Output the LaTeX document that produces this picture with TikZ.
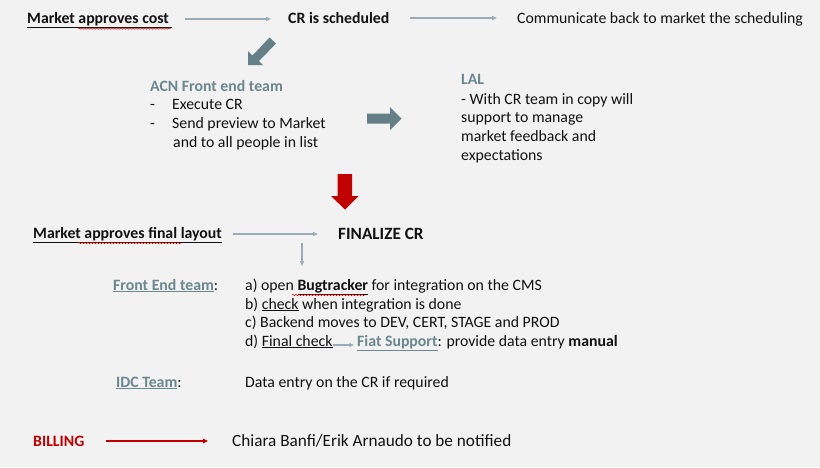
\documentclass[tikz,border=0pt]{standalone}
\usepackage{fontspec}
\setmainfont{Carlito}
\usetikzlibrary{arrows.meta,decorations.pathmorphing}
\definecolor{bg}{HTML}{F2F2F2}
\definecolor{slate}{HTML}{657F86}
\definecolor{slatetxt}{HTML}{6B878F}
\definecolor{linecol}{HTML}{9AADB4}
\definecolor{darkred}{HTML}{C00000}
\definecolor{txt}{HTML}{111111}
\newcommand{\ul}[1]{\underline{#1}}
\tikzset{
  txtnode/.style={anchor=base west, inner sep=0pt, font=\fontsize{15.8}{18}\selectfont, text=txt},
  bnode/.style={txtnode, font=\fontsize{15.8}{18}\selectfont\bfseries},
  conn/.style={draw=linecol, line width=1.2pt, -{Triangle[length=5pt,width=4pt]}},
  redconn/.style={draw=darkred, line width=1.4pt, -{Triangle[length=5pt,width=4.5pt]}},
  spell/.style={draw=red!85!black, line width=0.5pt, decorate, decoration={snake, amplitude=0.7pt, segment length=3pt}}
}
\begin{document}
\begin{tikzpicture}[x=1pt,y=-1pt]
\fill[bg] (0,0) rectangle (820,467);
\useasboundingbox (0,0) rectangle (820,467);

% top row
\node[bnode] (mac) at (27,23.5) {\ul{Market approves cost\ }};
\node[bnode] (crs) at (288,23.5) {CR is scheduled};
\node[txtnode] (comm) at (517,23.5) {Communicate back to market the scheduling};
\draw[spell] (78,28.5) -- (171,28.5);
\coordinate (a1s) at (185,19);
\coordinate (a1e) at (271,19);
\coordinate (a2s) at (410,18);
\coordinate (a2e) at (497,18);
\draw[conn] (a1s) -- (a1e);
\draw[conn] (a2s) -- (a2e);

% diagonal block arrow
\fill[slate] (248,65) -- (248,51) -- (252.5,55.5) -- (269.5,37.5) -- (276,43.5) -- (259,61) -- (263,65) -- cycle;

% ACN block
\node[bnode, text=slatetxt] (acn) at (150,91) {ACN Front end team};
\node[txtnode] (d1) at (150,109) {-};
\node[txtnode] (e1) at (172,109) {Execute CR};
\node[txtnode] (d2) at (150,128) {-};
\node[txtnode] (e2) at (172,128) {Send preview to Market};
\node[txtnode] (e3) at (173,147) {and to all people in list};

% right block arrow
\fill[slate] (367,113.5) -- (390,113.5) -- (390,107) -- (401.5,118.5) -- (390,130) -- (390,123.5) -- (367,123.5) -- cycle;

% LAL
\node[bnode, text=slatetxt] (lal) at (461,84) {LAL};
\node[txtnode] (l1) at (461,104) {- With CR team in copy will};
\node[txtnode] (l2) at (461,122) {support to manage};
\node[txtnode] (l3) at (461,141) {market feedback and};
\node[txtnode] (l4) at (461,160) {expectations};

% red down arrow
\fill[darkred] (337.5,174) -- (352,174) -- (352,196) -- (358.5,196) -- (345,209.5) -- (331,196) -- (337.5,196) -- cycle;

% final layout row
\node[bnode] (mafl) at (33,238) {\ul{Market approves final layout}};
\draw[spell] (78,243) -- (181,243);
\node[bnode, font=\fontsize{17.2}{20}\selectfont\bfseries] (fin) at (338,239.5) {FINALIZE CR};
\coordinate (a3s) at (233,234);
\coordinate (a3e) at (318,234);
\draw[conn] (a3s) -- (a3e);
\coordinate (a4s) at (302,243);
\coordinate (a4e) at (302,266);
\draw[conn] (a4s) -- (a4e);

% Front End team
\node[bnode, text=slatetxt] (fet) at (113,290) {\ul{Front End team}\textcolor{txt}{\mdseries:}};
\node[txtnode] (fa) at (245,290) {a) open \ul{\textbf{Bugtracker}} for integration on the CMS};
\draw[spell] (292,295) -- (365,295);
\node[txtnode] (fb) at (245,309) {b) \ul{check} when integration is done};
\node[txtnode] (fc) at (245,327) {c) Backend moves to DEV, CERT, STAGE and PROD};
\node[txtnode] (fd) at (245,346) {d) \ul{Final check}};
\node[txtnode] (fs) at (357,346) {\textbf{\textcolor{slatetxt}{\ul{Fiat Support}}}: provide data entry \textbf{manual}};
\draw[draw=linecol, line width=1.2pt, -{Triangle[length=4.5pt,width=4pt]}] ([yshift=1pt]fd.base east) -- ([xshift=-3pt,yshift=1pt]fs.base west);

% IDC
\node[bnode, text=slatetxt] (idc) at (116,387) {\ul{IDC Team}\textcolor{txt}{\mdseries:}};
\node[txtnode] (idct) at (245,387) {Data entry on the CR if required};

% Billing
\node[bnode, text=darkred] (bill) at (33,446.5) {BILLING};
\node[txtnode, font=\fontsize{17.2}{20}\selectfont] (chi) at (232,446.5) {Chiara Banfi/Erik Arnaudo to be notified};
\coordinate (a6s) at (106,441);
\coordinate (a6e) at (208,441);
\draw[redconn] (a6s) -- (a6e);
\end{tikzpicture}
\end{document}
